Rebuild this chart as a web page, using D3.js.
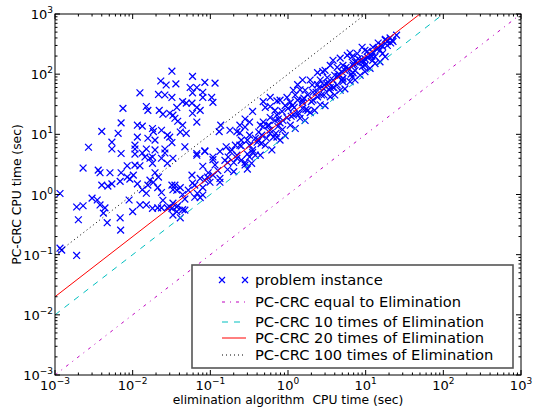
<!DOCTYPE html>
<html>
<head>
<script src="https://d3js.org/d3.v7.min.js"></script>
<style>
  body { margin: 0; background: #fff; }
  text { font-family: "DejaVu Sans", sans-serif; fill: #000; }
</style>
</head>
<body>
<svg width="535" height="409"></svg>
<script>
// elimination CPU time (sec) / PC-CRC CPU time (sec), one pair per problem instance
var elimTime = [
  0.00116,0.00116,0.00122,0.0019,0.002,0.0019,0.0023,0.0023,0.0027,0.0030,
  0.0035,0.0036,0.0038,0.0038,0.004,0.004,0.0042,0.0044,0.0047,0.0048,
  0.0054,0.0054,0.0054,0.0065,0.0069,0.007,0.0071,0.0071,0.0071,0.0075,
  0.0085,0.0085,0.009,0.0092,0.01,0.0102,0.0107,0.0107,0.0107,0.0107,
  0.0115,0.0115,0.0124,0.0124,0.0133,0.0133,0.0133,0.0144,0.015,0.015,
  0.015,0.0157,0.0157,0.0157,0.0167,0.0167,0.018,0.018,0.018,0.018,
  0.0185,0.0194,0.0194,0.0194,0.021,0.021,0.0215,0.0215,0.022,0.023,
  0.0235,0.0235,0.0235,0.0235,0.0245,0.026,0.026,0.027,0.028,0.028,
  0.028,0.03,0.03,0.03,0.032,0.032,0.032,0.032,0.033,0.033,
  0.033,0.035,0.036,0.037,0.038,0.041,0.044,0.044,0.047,0.049,
  0.049,0.055,0.058,0.059,0.059,0.059,0.067,0.067,0.067,0.067,
  0.074,0.08,0.08,0.085,0.085,0.104,0.108,0.108,0.115,0.13,
  0.136,0.16,0.179,0.22,0.24,0.25,0.25,0.28,0.32,0.32,
  0.35,0.35,0.32,0.0051,0.026,0.0124,0.0069,0.0115,0.0185,0.015,
  0.0245,0.037,
  // band along the 20x line
  0.032,0.033,0.035,0.037,0.037,0.033,0.038,0.041,0.041,0.044,
  0.047,0.047,0.058,0.059,0.063,0.067,0.068,0.074,0.08,0.08,
  0.08,0.085,0.092,0.099,0.108,0.108,0.133,0.133,0.133,0.17,
  0.167,0.2,0.2,0.22,0.25,0.28,0.3,0.3,0.34,0.35,
  0.42,0.42,0.48,0.51,0.59,0.59,0.59,0.7,0.79,0.79,
  0.97,0.97,1.07,1.17,1.3,1.33,1.43,1.54,1.54,1.8,
  1.93,2.4,2.4,2.4,2.8,2.9,3.2,3.5,3.5,3.8,
  4.3,4.3,4.7,5.1,5.1,5.8,6.3,6.7,7.8,8.5,
  9.8,11.4,12.4,14.5,15.3,17.8,19,20.6,22.5,25,
  13.2,9.8,7.3,6.7,9,
  0.79,1.07,1.43,1.93,2.6,3.5,4.7,6.3,8.5,11.4,
  15.3,0.51,0.38,0.28,0.62,0.92,1.24,1.66,2.2,3.0,
  4,5.4,7.3,9.8,13.2,17.8,
  0.68,0.92,1.24,1.66,2.05,2.6,3,4,5.4,7.3,
  9.8,0.44,0.32,0.24,0.18,0.28,0.24,
  0.48,0.59,0.72,0.72,0.48,0.59,0.74,0.4,0.53,0.72,
  0.44,
  0.84,1.0,1.14,1.33,1.54,1.8,2.1,2.5,2.9,3.3,
  3.8,4.4,4.9,6,6.9,7.8,9.1,10.6,12.3,14.5,
  16.5,19,22,0.86,1.17,1.54,2.1,2.9,3.8,5.1,
  6.9,9.1,12.3,16.5,0.3,0.38,0.46,0.57,0.68,0.21,
  0.19,0.154,0.115,0.094,0.074,0.052,0.044,0.063,0.085,0.125,
  0.167,0.22,
  0.45,0.55,0.65,0.75,0.85,1.1,1.2,1.4,1.6,1.7,
  2.0,2.3,2.7,3.1,3.4,3.9,4.5,5.0,5.6,6.5,
  7.0,8.0,9.5,10.5,12,14,16,18,21
];
var pccrcTime = [
  1.04,0.128,0.119,0.097,0.38,0.62,2.75,0.65,6.1,0.87,
  0.81,2.54,2.3,0.67,11.2,1.43,0.49,0.6,0.34,1.38,
  7.4,5.7,1.5,10.4,0.41,0.256,15.5,4.8,2.3,27,
  3.0,1.95,0.81,1.8,0.52,2.1,6.6,5.7,4.7,3.08,
  14.2,9.0,49,0.67,13.7,4.9,1.2,4.2,29,5.7,
  1.05,25,8.6,1.43,4.0,1.73,12.5,4.2,3.3,0.59,
  11.1,8.0,5.5,2.3,1.3,0.6,46,1.95,25,77,
  11.7,4.0,1.08,0.6,21.6,45,5.7,66,9.7,3.3,
  0.6,22.4,9.0,0.62,112,41,7.3,1.43,20.8,4.0,
  1.2,18.5,69,28,16.5,10.9,35,14.2,6.2,33,
  10.4,60,33,92,49,22.4,60,28,16,4.5,
  25,50,41,73,5.3,41,34,4.2,71,11.1,
  14.2,6.2,11.7,11.1,10.6,8.0,6.4,13.2,16,6.6,
  24,5.5,4.2,2.3,4.9,3.0,1.65,1.5,1.6,0.67,
  0.8,0.62,
  0.59,0.72,1.43,1.18,0.52,0.455,0.65,1.3,0.41,0.56,
  0.84,0.55,2.1,1.55,0.9,4.8,1.05,0.89,2.95,1.3,
  0.98,5.2,1.95,1.6,3.8,2.1,5.2,1.85,1.6,4.2,
  2.6,3.4,2.4,4.5,3.7,3.1,2.65,4.7,3.3,5.0,
  10.9,8.0,16,28,19,41,10.4,10.4,37,15.5,
  41,19,34,54,22,67,55,80,37,25,
  80,106,67,42,110,57,88,140,60,170,
  130,66,185,140,75,205,225,195,220,170,
  250,205,280,330,250,370,300,400,350,445,
  195,140,115,90,280,
  8.0,14.2,18.5,23,31,42,54,75,96,125,
  160,6.6,4.5,3.4,5.5,9.5,12.5,17,25,30,
  45,57,80,110,150,195,
  25,30,45,54,66,80,116,96,116,160,
  180,14.2,9.7,6.6,5.2,18,14.2,
  35,29,36,21,13.5,11.7,13.5,7.4,8.6,9.0,
  4.5,
  24,27,30,37,34,45,50,60,66,73,
  80,92,110,124,140,155,170,190,230,270,
  290,350,367,17,21,27,37,45,60,85,
  105,135,170,220,8,8.6,9.7,14.2,17,6.6,
  5.5,3.7,3.1,2.3,1.85,1.18,1.0,1.43,1.73,2.5,
  3.4,4.0,
  7,14,9,18,12,20,28,22,40,26,
  35,50,45,70,55,60,100,80,130,100,
  150,180,160,240,200,260,300,380,330
];

var decades = [-3, -2, -1, 0, 1, 2, 3];
var ratios = [1, 10, 20, 100];
var lineColors = ["#bf00bf", "#00bfbf", "#ff0000", "#000000"];
var lineDashes = ["3,5,1,5", "6,6", null, "1,3"];
var legendLabels = [
  "problem instance",
  "PC-CRC equal to Elimination",
  "PC-CRC 10 times of Elimination",
  "PC-CRC 20 times of Elimination",
  "PC-CRC 100 times of Elimination"
];

var pLeft = 55, pRight = 521, pTop = 14, pBottom = 375;
var svg = d3.select("svg");

var x = d3.scaleLog().domain([1e-3, 1e3]).range([pLeft, pRight]);
var y = d3.scaleLog().domain([1e-3, 1e3]).range([pBottom, pTop]);

svg.append("clipPath").attr("id", "plot")
  .append("rect").attr("x", pLeft).attr("y", pTop)
  .attr("width", pRight - pLeft).attr("height", pBottom - pTop);

var plot = svg.append("g").attr("clip-path", "url(#plot)");

// scatter markers
var pts = elimTime.map(function(d, i) { return [d, pccrcTime[i]]; });
function cross(sel, s) {
  return sel.attr("d", "M" + (-s) + "," + (-s) + "L" + s + "," + s +
                       "M" + (-s) + "," + s + "L" + s + "," + (-s));
}
cross(plot.selectAll("path.pt").data(pts).enter().append("path")
  .attr("class", "pt")
  .attr("transform", function(d) { return "translate(" + x(d[0]) + "," + y(d[1]) + ")"; }), 3.4)
  .attr("fill", "none").attr("stroke", "#0000ff").attr("stroke-width", 1.25);

// reference lines y = r * x
var line = d3.line().x(function(d) { return x(d[0]); }).y(function(d) { return y(d[1]); });
ratios.forEach(function(r, i) {
  plot.append("path")
    .attr("d", line([[1e-3, r * 1e-3], [1e3 / r, 1e3]]))
    .attr("fill", "none")
    .attr("stroke", lineColors[i])
    .attr("stroke-width", 1)
    .attr("stroke-dasharray", lineDashes[i]);
});

// frame
svg.append("rect").attr("x", pLeft).attr("y", pTop)
  .attr("width", pRight - pLeft).attr("height", pBottom - pTop)
  .attr("fill", "none").attr("stroke", "#000").attr("stroke-width", 1);

// ticks on all sides, pointing inward
var ticks = svg.append("g").attr("stroke", "#000").attr("stroke-width", 1);
decades.forEach(function(k) {
  for (var m = 1; m <= 9; m++) {
    var v = m * Math.pow(10, k);
    if (v > 1e3 * 1.0001) break;
    var len = m === 1 ? 5 : 2.5;
    var px = x(v), py = y(v);
    ticks.append("line").attr("x1", px).attr("x2", px).attr("y1", pBottom).attr("y2", pBottom - len);
    ticks.append("line").attr("x1", px).attr("x2", px).attr("y1", pTop).attr("y2", pTop + len);
    ticks.append("line").attr("y1", py).attr("y2", py).attr("x1", pLeft).attr("x2", pLeft + len);
    ticks.append("line").attr("y1", py).attr("y2", py).attr("x1", pRight).attr("x2", pRight - len);
  }
});

function expLabel(t, k) {
  t.append("tspan").text("10");
  t.append("tspan").attr("dy", -6).attr("font-size", "9px")
    .text(k < 0 ? "\u2212" + (-k) : String(k));
}

decades.forEach(function(k) {
  var v = Math.pow(10, k);
  var tx = svg.append("text").attr("x", x(v)).attr("y", 390)
    .attr("text-anchor", "middle").attr("font-size", "13px");
  expLabel(tx, k);
  var ty = svg.append("text").attr("x", 53).attr("y", y(v) + 5)
    .attr("text-anchor", "end").attr("font-size", "13px");
  expLabel(ty, k);
});

svg.append("text").attr("x", (pLeft + pRight) / 2).attr("y", 404)
  .attr("text-anchor", "middle").attr("font-size", "12.3px")
  .attr("xml:space", "preserve")
  .text("elimination algorithm  CPU time (sec)");

svg.append("text").attr("transform", "translate(21," + ((pTop + pBottom) / 2) + ") rotate(-90)")
  .attr("text-anchor", "middle").attr("font-size", "12.3px")
  .text("PC-CRC CPU time (sec)");

// legend
var lg = svg.append("g");
lg.append("rect").attr("x", 192).attr("y", 265).attr("width", 321).attr("height", 103)
  .attr("fill", "#fff").attr("stroke", "#555").attr("stroke-width", 1.6);
var rowY = [280, 302, 322, 338, 355];
legendLabels.forEach(function(lab, i) {
  if (i === 0) {
    cross(lg.selectAll("path.lm").data([222, 245]).enter().append("path")
      .attr("class", "lm")
      .attr("transform", function(d) { return "translate(" + d + "," + rowY[0] + ")"; }), 3)
      .attr("fill", "none").attr("stroke", "#0000ff").attr("stroke-width", 1.2);
  } else {
    lg.append("line").attr("x1", 222).attr("x2", 246)
      .attr("y1", rowY[i]).attr("y2", rowY[i])
      .attr("stroke", lineColors[i - 1]).attr("stroke-width", 1)
      .attr("stroke-dasharray", lineDashes[i - 1]);
  }
  lg.append("text").attr("x", 255).attr("y", rowY[i] + 5)
    .attr("font-size", "14.7px").text(lab);
});
</script>
</body>
</html>
